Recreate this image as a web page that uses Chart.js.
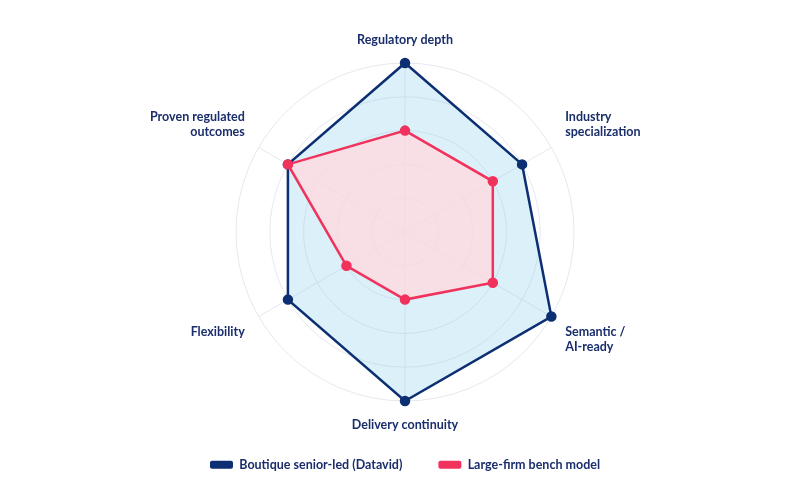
<!DOCTYPE html>
<html>
<head>
<meta charset="utf-8">
<script src="https://cdn.jsdelivr.net/npm/chart.js@4"></script>
<style>
  html, body { margin: 0; padding: 0; background: #fff; }
  #wrap { width: 800px; height: 493px; }
</style>
</head>
<body>
<div id="wrap"><canvas id="radar"></canvas></div>
<script>
// ---------- Data ----------
const categories = [
  "Regulatory depth",
  ["Industry", "specialization"],
  ["Semantic /", "AI-ready"],
  "Delivery continuity",
  "Flexibility",
  ["Proven regulated", "outcomes"]
];
const boutiqueValues = [5, 4, 5, 5, 4, 4];
const benchValues = [3, 3, 3, 2, 2, 4];
const seriesNames = ["Boutique senior-led (Datavid)", "Large-firm bench model"];

const NAVY = "#0c2e72";
const PINK = "#f0325c";
const LABEL = "#1a2e6c";

Chart.defaults.font.family = "Lato, 'Open Sans', sans-serif";

// legend keeps its wide item gap but sits a bit closer to the chart
const legendLift = {
  id: "legendLift",
  beforeInit(chart) {
    const draw = chart.legend.draw;
    chart.legend.draw = function () {
      this.ctx.save();
      this.ctx.translate(0, -10);
      draw.call(this);
      this.ctx.restore();
    };
  }
};

// ---------- Radar ----------
const ctx = document.getElementById("radar").getContext("2d");
new Chart(ctx, {
  type: "radar",
  data: {
    labels: categories,
    datasets: [
      {
        label: seriesNames[0],
        data: boutiqueValues,
        order: 1, // drawn underneath the bench model
        borderColor: NAVY,
        backgroundColor: "rgba(135,206,235,0.3)",
        pointBackgroundColor: NAVY,
        pointBorderColor: NAVY,
        borderWidth: 2.5,
        pointRadius: 4,
        fill: true
      },
      {
        label: seriesNames[1],
        data: benchValues,
        order: 0,
        borderColor: PINK,
        backgroundColor: "rgba(255,217,224,0.8)",
        pointBackgroundColor: PINK,
        pointBorderColor: PINK,
        borderWidth: 2.5,
        pointRadius: 4,
        fill: true
      }
    ]
  },
  options: {
    responsive: true,
    maintainAspectRatio: false,
    animation: false,
    layout: { padding: { top: 32, bottom: 2, left: 10 } },
    scales: {
      r: {
        min: 0,
        max: 5,
        ticks: { display: false, stepSize: 1 },
        grid: { circular: true, color: "#e6e8ee", lineWidth: 1 },
        angleLines: { color: "#e6e8ee" },
        pointLabels: {
          color: LABEL,
          padding: 16,
          font: { size: 12.5, weight: "bold" }
        }
      }
    },
    plugins: {
      tooltip: { enabled: false },
      legend: {
        position: "bottom",
        labels: {
          boxWidth: 23,
          boxHeight: 8,
          useBorderRadius: true,
          borderRadius: 2,
          padding: 36,
          color: LABEL,
          font: { size: 12.5, weight: "bold" },
          generateLabels: (chart) =>
            chart.data.datasets.map((ds, i) => ({
              text: ds.label,
              fillStyle: ds.borderColor,
              strokeStyle: ds.borderColor,
              lineWidth: 0,
              fontColor: LABEL,
              borderRadius: 2,
              datasetIndex: i
            }))
        }
      }
    }
  },
  plugins: [legendLift]
});
</script>
</body>
</html>
